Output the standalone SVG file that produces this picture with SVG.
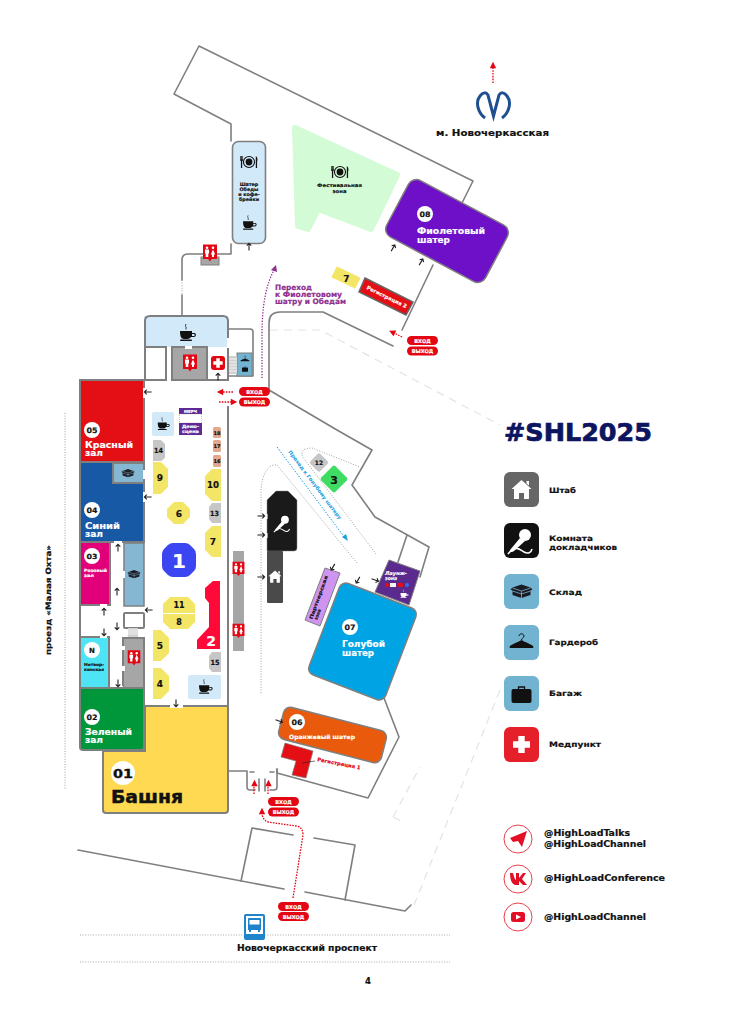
<svg xmlns="http://www.w3.org/2000/svg" width="735" height="1024" viewBox="0 0 735 1024">
<style>
svg{color:#111}
text{font-family:"DejaVu Sans","Liberation Sans",sans-serif;font-weight:700;fill:#111;stroke:#111;stroke-width:.18}
.w{fill:#fff;stroke:#fff}.c{text-anchor:middle}
.pu{fill:#8e2e8f;stroke:#8e2e8f}.bl{fill:#1aa0e0;stroke:#1aa0e0;stroke-width:.05}.rd{fill:#e30613;stroke:#e30613}
.wall{fill:none;stroke:#7f7f7f;stroke-width:1.6;stroke-linejoin:round;stroke-linecap:round}
.hw{stroke:#7f7f7f;stroke-width:2}
.faint{fill:none;stroke:#e4e4e4;stroke-width:1.2;stroke-dasharray:8 6}
.dot{fill:none;stroke:#888;stroke-width:.8;stroke-dasharray:1 1.6}
.road{fill:none;stroke:#aaa;stroke-width:1;stroke-dasharray:1 1.6}
.red{fill:none;stroke:#e30613;stroke-width:1.3;stroke-dasharray:1.6 1.2}
.y{fill:#f3e565}.g{fill:#c6c6c6}.s{fill:#e3a98e}.lb{fill:#d2e9fa}.door{fill:#fff}
.pill{fill:#e30613}
</style>
<defs>
<path id="a" d="M0-3.6V3.6M-2.3-1.3L0-3.6L2.3-1.3" fill="none" stroke="#222" stroke-width="1.1"/>
<path id="rh" d="M0-3.2L3.2 3.2H-3.2Z" fill="#e30613"/>
<g id="cup" fill="currentColor">
<path d="M-7-2H5V0H7.500C9.500 0 9.500 4 7 4H4C3 5.500 2 6-1 6H-3C-6 6-7 3-7-2ZM5 1V3H7C8 3 8 1 7 1Z"/>
<rect x="-7" y="6.500" width="12" height="1.500" rx=".7"/>
<path d="M-1-9C-2.500-7-.2-6-1-3.500" fill="none" stroke="currentColor" stroke-width=".8"/>
</g>
<g id="fork" fill="#111">
<circle r="6.500" fill="none" stroke="#111" stroke-width="1.300"/><circle r="4"/>
<path d="M-10.500-7V-1.500H-9.500V7H-8V-1.500H-7V-7H-7.800V-3H-8.300V-7H-9.200V-3H-9.700V-7Z"/>
<path d="M8-7C10-6 10.500-2 9.500-.5V7H8Z"/>
</g>
<g id="wc">
<path d="M-7-7.500H7V7H1.800L0 9.500L-1.800 7H-7Z" fill="#e30613"/>
<circle cx="-3" cy="-4.200" r="1.300" fill="#fff"/><circle cx="3" cy="-4.200" r="1.300" fill="#fff"/>
<path d="M-5-2.500H-1V1.500H-1.700V5H-4.300V1.500H-5ZM3-2.500L5.200 2.500H4V5H2V2.500H.8Z" fill="#fff"/>
</g>
<g id="box">
<path d="M0-6.500L9-3.500L11-1.500L9-.5V4L0 7L-9 4V-.5L-11-1.500L-9-3.500Z" fill="#1b1b24"/>
<path d="M-9-3L0 0L9-3M0 0V7M-9 0L0 3L9 0" fill="none" stroke="#7fb4d0" stroke-width=".8"/>
</g>
<g id="bag"><path d="M-3-5V-7H3V-5" fill="none" stroke="#111" stroke-width="1.300"/><rect x="-10" y="-5" width="20" height="14" rx="2" fill="#111"/></g>
<g id="hanger"><path d="M-12 5C-12 3-3 0 0-2C3 0 12 3 12 5C12 6 11 6 10 6H-10C-11 6-12 6-12 5Z" fill="#111"/><path d="M-2.500-6C-2-9 2-9 2.500-6C2.500-4 0-4 0-2" fill="none" stroke="#111" stroke-width="1"/></g>
<path id="cross" d="M-3.200-8.500H3.200V-3.200H8.500V3.200H3.200V8.500H-3.200V3.200H-8.500V-3.200H-3.200Z" fill="#fff"/>
<path id="home" d="M0-10L10-1H7.500V9H2.500V3H-2.500V9H-7.500V-1H-10ZM5-9H7.500V-4.500L5-6.500Z" fill="#fff"/>
<g id="mic"><path d="M-2-2L-12 10C-13 12-10 13-8 11L3 1Z" fill="#fff"/><circle cx="3" cy="-5" r="6" fill="#fff"/><path d="M-14 14C-6 4-2 10 2 12C6 14 9 13 10 9" fill="none" stroke="#fff" stroke-width="1.600"/></g>
</defs>

<g id="site-outline">
<path class="faint" d="M270 330H320L500 425M500 690L414 905M393 817L420 767M393 817L405 823"/>
<path class="wall" d="M231 141V124L174 94L199 46L473 181L462 203"/>
<path class="wall" d="M433 265L402 330M393 346L323 312H280Q269 312 269 323V390L337 430L372 450L352 485L375 517L429 547L420 577M407 535L398 562"/>
<path class="wall" d="M384 698L399 737L368 798L277 773V769"/>
<path class="wall" d="M229 771H247V787Q247 790 250 790H255M277 769V787Q277 790 274 790H270M259 779V791M265 779V791M250 772H254M270 772H274"/>
<path class="wall" d="M78 850L284 889M305 892L405 911L411 905"/>
<path class="wall" d="M241 881L252 828L293 835M314 838L355 845L345 900"/>
<path class="wall" d="M231 244V254H188Q182 254 182 260V280M182 295V316"/>
<path class="dot" d="M182 280V295"/>
<path class="wall" d="M228 329H250Q253 329 253 332V376H228"/>
<path class="dot" d="M65 413V790"/>
<path class="dot" d="M261 693V490C262 475 268 463 277 465L357 563"/>
<path class="dot" d="M376 554L305 460C298 451 304 448 312 448L360 467"/>
<path class="road" d="M80 935H450M80 962H450"/>
</g>

<g id="main-building">
<rect x="144" y="316" width="84" height="31" class="lb"/>
<path class="hw" fill="none" d="M145 347V321Q145 316 150 316H223Q228 316 228 321V706"/>
<rect x="145" y="347" width="21" height="33" fill="#fff" class="hw"/>
<rect x="172" y="347" width="35" height="33" fill="#a6a6a6" class="hw"/>
<path class="hw" d="M207 380H228"/>
<rect x="185" y="346" width="7" height="3" class="door"/>
<rect x="227" y="338" width="3" height="10" class="door"/>
<rect x="227" y="381" width="3" height="25" class="door"/>
<use href="#cup" transform="translate(187 333)"/>
<use href="#wc" transform="translate(190 362)"/>
<g id="med"><rect x="211" y="356" width="14" height="14" rx="3" fill="#e30613"/><use href="#cross" transform="translate(218 363) scale(.55)"/></g>
<rect x="237" y="353" width="15" height="23" fill="#73b3d2" stroke="#7f7f7f"/>
<use href="#hanger" transform="translate(245 359) scale(.38)"/><use href="#bag" transform="translate(245 369) scale(.3)"/>
<rect x="229" y="356" width="8" height="18" fill="#d0d0d0"/>
<path d="M229 359H237M229 362H237M229 365H237M229 368H237M229 371H237" stroke="#fff" stroke-width=".8"/>
</g>

<g id="hall-05"><rect x="80" y="380" width="64" height="82" fill="#e30f15" class="hw"/>
<rect x="143" y="388" width="3" height="10" class="door"/>
<circle cx="92" cy="430" r="8" fill="#fff"/><text x="92" y="433" class="c" font-size="7.500" textLength="11" lengthAdjust="spacingAndGlyphs">05</text>
<text x="85" y="448" class="w" font-size="9" textLength="48" lengthAdjust="spacingAndGlyphs">Красный</text><text x="85" y="456" class="w" font-size="9" textLength="18" lengthAdjust="spacingAndGlyphs">зал</text></g>
<g id="hall-04"><rect x="80" y="462" width="64" height="80" fill="#1859a6" class="hw"/>
<rect x="113" y="463" width="31" height="20" fill="#85b6d2" class="hw"/><use href="#box" transform="translate(128 473) scale(.6)"/>
<rect x="143" y="470" width="3" height="9" class="door"/><rect x="143" y="492" width="3" height="10" class="door"/>
<circle cx="92" cy="510" r="8" fill="#fff"/><text x="92" y="513" class="c" font-size="7.500" textLength="11" lengthAdjust="spacingAndGlyphs">04</text>
<text x="85" y="529" class="w" font-size="9" textLength="35" lengthAdjust="spacingAndGlyphs">Синий</text><text x="85" y="537" class="w" font-size="9" textLength="18" lengthAdjust="spacingAndGlyphs">зал</text></g>
<g id="hall-03"><path d="M81 543H110V606H81Z" fill="#e2007a"/><path class="hw" fill="none" d="M80 542V638M110 543V605H80"/>
<rect x="124" y="543" width="20" height="63" fill="#85b6d2" stroke="#7f7f7f" stroke-width="1.500"/><use href="#box" transform="translate(134 574) scale(.6)"/>
<rect x="120" y="571" width="5" height="7" class="door"/><rect x="114" y="541" width="8" height="3" class="door"/>
<rect x="100" y="604" width="7" height="3" class="door"/>
<circle cx="92" cy="556" r="8" fill="#fff"/><text x="92" y="558.500" class="c" font-size="7" textLength="11" lengthAdjust="spacingAndGlyphs">03</text>
<text x="84" y="572" class="w" font-size="4.500" textLength="23" lengthAdjust="spacingAndGlyphs">Розовый</text><text x="84" y="577" class="w" font-size="4.500" textLength="10" lengthAdjust="spacingAndGlyphs">зал</text></g>
<g id="hall-n"><rect x="80" y="637" width="29" height="51" fill="#4ee3f5" class="hw"/>
<rect x="100" y="635" width="7" height="3" class="door"/>
<circle cx="92" cy="650" r="8" fill="#fff"/><text x="92" y="653" class="c" font-size="7">N</text>
<text x="84" y="666" font-size="4" textLength="20" lengthAdjust="spacingAndGlyphs">Нетвор-</text><text x="84" y="671" font-size="4" textLength="20" lengthAdjust="spacingAndGlyphs">кинская</text></g>
<g id="wc-block"><rect x="124" y="613" width="20" height="15" rx="1" fill="#fff" class="hw"/>
<rect x="128" y="628" width="10" height="9" fill="#d0d0d0"/><path d="M128 630H138M128 632H138M128 634H138" stroke="#fff" stroke-width=".7"/>
<rect x="123" y="638" width="21" height="50" fill="#a6a6a6" class="hw"/><use href="#wc" transform="translate(134 657) scale(.9)"/>
<rect x="122" y="646" width="3" height="4" class="door"/><rect x="122" y="666" width="3" height="5" class="door"/><rect x="116" y="686" width="7" height="3" class="door"/></g>
<g id="hall-02"><path d="M80 688H144V747Q144 750 141 750H83Q80 750 80 747Z" fill="#00973a" class="hw"/>
<circle cx="92" cy="717" r="8" fill="#fff"/><text x="92" y="720" class="c" font-size="7.500" textLength="11" lengthAdjust="spacingAndGlyphs">02</text>
<text x="85" y="735" class="w" font-size="9" textLength="47" lengthAdjust="spacingAndGlyphs">Зеленый</text><text x="85" y="743" class="w" font-size="9" textLength="18" lengthAdjust="spacingAndGlyphs">зал</text></g>
<g id="hall-01"><path d="M145 706H228V810Q228 813 225 813H106Q103 813 103 810V751H145Z" fill="#ffd951" class="hw"/>
<rect x="170" y="705" width="13" height="3" class="door"/>
<circle cx="123" cy="773" r="12" fill="#fff"/><text x="123" y="777.500" class="c" font-size="13" textLength="20" lengthAdjust="spacingAndGlyphs" style="stroke-width:.4">01</text>
<text x="111" y="803" font-size="18" textLength="72" lengthAdjust="spacingAndGlyphs" style="stroke-width:.5">Башня</text></g>

<g id="booths">
<rect x="152" y="412" width="22" height="24" rx="2" class="lb"/><use href="#cup" transform="translate(163 424) scale(.75)"/>
<g id="merch"><rect x="179" y="408" width="23" height="6" fill="#5f2a97"/><rect x="179.500" y="414" width="22" height="9" fill="#fff" stroke="#888" stroke-width=".5" stroke-dasharray="1 1"/><rect x="179" y="423" width="23" height="12" fill="#5f2a97"/>
<text x="190.500" y="413" class="c w" font-size="4">МЕРЧ</text><text x="190.500" y="428" class="c w" font-size="4.500" textLength="17" lengthAdjust="spacingAndGlyphs">Демо-</text><text x="190.500" y="433" class="c w" font-size="4.500" textLength="17" lengthAdjust="spacingAndGlyphs">сцена</text></g>
<rect x="213" y="427" width="8" height="11" rx="1.500" class="s"/><text x="217" y="435" class="c" font-size="5" textLength="7" lengthAdjust="spacingAndGlyphs">18</text>
<rect x="213" y="440" width="8" height="12" rx="1.500" class="s"/><text x="217" y="448" class="c" font-size="5" textLength="7" lengthAdjust="spacingAndGlyphs">17</text>
<rect x="213" y="455" width="8" height="12" rx="1.500" class="s"/><text x="217" y="463" class="c" font-size="5" textLength="7" lengthAdjust="spacingAndGlyphs">16</text>
<path d="M153 440H161L165 444V458L161 461H153Z" class="g"/><text x="158.500" y="453" class="c" font-size="7" textLength="9" lengthAdjust="spacingAndGlyphs">14</text>
<path d="M153 462H161L168 469V487L161 494H153Z" class="y"/><text x="160" y="481" class="c" font-size="9">9</text>
<path d="M221 469H212L205 476V494L212 501H221Z" class="y"/><text x="213" y="488" class="c" font-size="8.500" textLength="12" lengthAdjust="spacingAndGlyphs">10</text>
<path d="M221 503H212L209 507V519L212 523H221Z" class="g"/><text x="214.500" y="516" class="c" font-size="7" textLength="9" lengthAdjust="spacingAndGlyphs">13</text>
<path d="M221 526H212L205 533V550L212 557H221Z" class="y"/><text x="213" y="545" class="c" font-size="9">7</text>
<path d="M174 502H183L190 509V517L183 524H174L167 517V509Z" class="y"/><text x="179" y="517" class="c" font-size="9">6</text>
<path d="M173 543H185Q188 543 190 545L194 549Q196 551 196 554V566Q196 569 194 571L190 575Q188 577 185 577H173Q170 577 168 575L164 571Q162 569 162 566V554Q162 551 164 549L168 545Q170 543 173 543Z" fill="#3b45f2"/><text x="179" y="568" class="c w" font-size="20">1</text>
<path d="M170 597H188L195 604V613H163V604Z" class="y"/><text x="179" y="608" class="c" font-size="8">11</text>
<path d="M163 614H195V622L188 629H170L163 622Z" class="y"/><text x="179" y="625" class="c" font-size="8">8</text>
<path d="M213 581H220V649H197V640L209 627V603L205 598V588Z" fill="#ff0a38"/><text x="211" y="646" class="c w" font-size="14">2</text>
<path d="M221 652H212L209 656V668L212 672H221Z" class="g"/><text x="215" y="665" class="c" font-size="7" textLength="9" lengthAdjust="spacingAndGlyphs">15</text>
<rect x="188" y="675" width="33" height="24" rx="2" class="lb"/><use href="#cup" transform="translate(205 687) scale(.85)"/>
<path d="M153 630H161L169 638V653L161 661H153Z" class="y"/><text x="160" y="649" class="c" font-size="9">5</text>
<path d="M153 668H161L169 676V691L161 699H153Z" class="y"/><text x="160" y="687" class="c" font-size="9">4</text>
</g>

<g id="tent-05"><rect x="232.500" y="141.500" width="33" height="102" rx="6" fill="#d2e9fa" stroke="#7f7f7f" stroke-width="1.600"/>
<use href="#fork" transform="translate(249 162) scale(.85)"/><use href="#cup" transform="translate(249 223) scale(.85)"/>
<text x="249" y="186" class="c" font-size="4.800">Шатер</text><text x="249" y="191" class="c" font-size="4.800">Обеды</text><text x="249" y="196" class="c" font-size="4.800">и кофе-</text><text x="249" y="201" class="c" font-size="4.800">брейки</text>
</g>
<g id="wc-05"><rect x="201" y="257" width="18" height="8" fill="#a6a6a6" stroke="#7f7f7f"/><use href="#wc" transform="translate(210 252)"/></g>
<g id="strip-wc"><rect x="233" y="551" width="11" height="100" fill="#a6a6a6"/><use href="#wc" transform="translate(238.500 568) scale(.85)"/><use href="#wc" transform="translate(238.500 630) scale(.85)"/></g>

<g id="festival"><path d="M295 128L397 175L371 229L318 209L308 229L298 226Z" fill="#d3fbd5" stroke="#d3fbd5" stroke-width="6" stroke-linejoin="round"/>
<use href="#fork" transform="translate(340 172) scale(.85)"/>
<text x="339.500" y="187" class="c" font-size="4.800" textLength="45" lengthAdjust="spacingAndGlyphs">Фестивальная</text><text x="339.500" y="192.500" class="c" font-size="4.800" textLength="14" lengthAdjust="spacingAndGlyphs">зона</text></g>

<g id="tent-08"><rect x="-56" y="-32" width="112" height="64" rx="9" transform="translate(447 231) rotate(28)" fill="#6d10c8" stroke="#7f7f7f" stroke-width="1.500"/>
<circle cx="425" cy="214" r="8" fill="#fff"/><text x="425" y="217" class="c" font-size="7.500" textLength="11" lengthAdjust="spacingAndGlyphs">08</text>
<text x="417" y="233.500" class="w" font-size="9" textLength="68" lengthAdjust="spacingAndGlyphs">Фиолетовый</text><text x="417" y="242.500" class="w" font-size="9" textLength="33" lengthAdjust="spacingAndGlyphs">шатер</text>
<rect x="-3" y="-2" width="7" height="4" transform="translate(394 245) rotate(28)" class="door"/><rect x="-3" y="-2" width="7" height="4" transform="translate(422 259) rotate(28)" class="door"/></g>
<g id="booth-7"><path d="M337 267L360 278L355 288L332 277Z" fill="#f3e565" stroke="#f3e565" stroke-width="1" stroke-linejoin="round"/><text x="346.500" y="282" class="c" font-size="9">7</text></g>
<g id="reg-2"><path d="M365 278L413 302L406 315L359 292Z" fill="#e30f15" stroke="#666" stroke-width="1.500"/><text transform="translate(386 298.500) rotate(26)" class="c w" font-size="5" textLength="44" lengthAdjust="spacingAndGlyphs">Регистрация 2</text></g>
<text x="275" y="290" class="pu" font-size="7.500" textLength="37" lengthAdjust="spacingAndGlyphs">Переход</text>
<text x="275" y="297" class="pu" font-size="7.500" textLength="67" lengthAdjust="spacingAndGlyphs">к Фиолетовому</text>
<text x="275" y="304" class="pu" font-size="7.500" textLength="71" lengthAdjust="spacingAndGlyphs">шатру и Обедам</text>

<g id="lounge"><path d="M389 560L420 571L409 605L375 592Z" fill="#5b2a8e" stroke="#7f7f7f" stroke-width="1" stroke-linejoin="round"/>
<text x="385" y="575" class="w" font-size="5" font-style="italic" textLength="22" lengthAdjust="spacingAndGlyphs">Лаунж-</text><text x="385" y="580" class="w" font-size="5" font-style="italic" textLength="12" lengthAdjust="spacingAndGlyphs">зона</text>
<circle cx="387" cy="585" r="2" fill="#e30f15"/><rect x="390" y="583" width="6" height="4" fill="#f4f4f4"/><rect x="398" y="583" width="5" height="4" fill="#e30f15"/><circle cx="407" cy="585" r="2" fill="#3b6fe0"/>
<use href="#cup" transform="translate(404 594) scale(.5)" style="color:#fff"/></g>
<g id="tent-07"><rect x="-41" y="-49" width="82" height="98" rx="7" transform="translate(362.500 641.500) rotate(21)" fill="#00a4e4" stroke="#7f7f7f" stroke-width="1.500"/>
<rect x="-4" y="-2" width="8" height="4" transform="translate(358 584) rotate(21)" class="door"/>
<circle cx="350" cy="627" r="8" fill="#fff"/><text x="350" y="630" class="c" font-size="7.500" textLength="11" lengthAdjust="spacingAndGlyphs">07</text>
<text x="342" y="647" class="w" font-size="9" textLength="43" lengthAdjust="spacingAndGlyphs">Голубой</text><text x="342" y="656" class="w" font-size="9" textLength="32" lengthAdjust="spacingAndGlyphs">шатер</text></g>
<g id="partner"><path d="M325 568L340 573L320 626L305 620Z" fill="#cf93f0" stroke="#7f7f7f" stroke-width="1"/>
<text transform="translate(320 598) rotate(-70)" class="c" font-size="4.500" textLength="46" lengthAdjust="spacingAndGlyphs">Партнерская</text><text transform="translate(319 615) rotate(-70)" class="c" font-size="4.500" textLength="11" lengthAdjust="spacingAndGlyphs">зона</text></g>
<g id="speakers"><path d="M267 500L276 491H288L297 500V548Q297 551 294 551H267Z" fill="#1a1a1a" stroke="#888" stroke-width=".5"/><use href="#mic" transform="translate(283 523) scale(.65)"/>
<rect x="267" y="551" width="16" height="52" rx="1" fill="#4a4a4a"/><use href="#home" transform="translate(275 577) scale(.65)"/>
<rect x="265.500" y="514" width="2" height="5" class="door"/><rect x="265.500" y="533" width="2" height="5" class="door"/></g>
<g id="booth-12"><rect x="-7" y="-7" width="14" height="14" rx="2" transform="translate(319 462.500) rotate(45)" fill="#c6c6c6"/><text x="319" y="465" class="c" font-size="6">12</text></g>
<g id="booth-3"><rect x="-10" y="-10" width="20" height="20" rx="2" transform="translate(334 479) rotate(45)" fill="#3fdc64"/><text x="334" y="483.500" class="c" font-size="11">3</text></g>
<text transform="translate(288 452) rotate(53)" class="bl" font-size="5" textLength="85" lengthAdjust="spacingAndGlyphs">Проход к Голубому шатеру</text>

<g id="tent-06"><rect x="-53" y="-16.500" width="106" height="33" rx="7" transform="translate(332.500 735) rotate(14.500)" fill="#ea5a0c" stroke="#7f7f7f" stroke-width="1.500"/>
<circle cx="297" cy="722" r="8" fill="#fff"/><text x="297" y="725" class="c" font-size="7.500" textLength="11" lengthAdjust="spacingAndGlyphs">06</text>
<text x="289" y="738.500" class="w" font-size="5.800" textLength="66" lengthAdjust="spacingAndGlyphs">Оранжевый шатер</text></g>
<g id="reg-1"><path d="M285 743L313 751L306 778L292 775L296 761L281 757Z" fill="#e30f15" stroke="#7f7f7f" stroke-width=".7"/><path d="M302 763L315 761" stroke="#222" stroke-width=".6"/>
<text transform="translate(317 761) rotate(11)" class="rd" font-size="5" textLength="44" lengthAdjust="spacingAndGlyphs">Регистрация 1</text></g>

<g id="entry-labels">
<rect x="407" y="336" width="31" height="9" rx="4.500" class="pill"/><text x="422.500" y="342.500" class="c w" font-size="5">ВХОД</text>
<rect x="407" y="346.500" width="31" height="9" rx="4.500" class="pill"/><text x="422.500" y="353" class="c w" font-size="5">ВЫХОД</text>
<rect x="239" y="387" width="31" height="9" rx="4.500" class="pill"/><text x="254.500" y="393.500" class="c w" font-size="5">ВХОД</text>
<rect x="239" y="397.500" width="31" height="9" rx="4.500" class="pill"/><text x="254.500" y="404" class="c w" font-size="5">ВЫХОД</text>
<rect x="268" y="797" width="31" height="9" rx="4.500" class="pill"/><text x="283.500" y="803.500" class="c w" font-size="5">ВХОД</text>
<rect x="268" y="807.500" width="31" height="9" rx="4.500" class="pill"/><text x="283.500" y="814" class="c w" font-size="5">ВЫХОД</text>
<rect x="278" y="902" width="31" height="9" rx="4.500" class="pill"/><text x="293.500" y="908.500" class="c w" font-size="5">ВХОД</text>
<rect x="278" y="912" width="31" height="9" rx="4.500" class="pill"/><text x="293.500" y="918.500" class="c w" font-size="5">ВЫХОД</text>
</g>

<g id="bus"><rect x="244" y="914" width="21" height="26" rx="2" fill="#1f84c9"/><rect x="246" y="916" width="17" height="18" fill="#fff"/>
<path d="M249 918H260Q261 918 261 919V930H248V919Q248 918 249 918Z" fill="#1f84c9"/><rect x="249.500" y="920" width="10" height="4.500" fill="#fff"/><rect x="249" y="930" width="2" height="2" fill="#1f84c9"/><rect x="258" y="930" width="2" height="2" fill="#1f84c9"/></g>

<text transform="translate(51 600) rotate(-90)" class="c" font-size="7.500" textLength="110" lengthAdjust="spacingAndGlyphs">проезд «Малая Охта»</text>
<text x="237" y="951" font-size="8.500" textLength="140" lengthAdjust="spacingAndGlyphs">Новочеркасский проспект</text>
<text x="368" y="984" class="c" font-size="8.500">4</text>

<g id="metro"><path d="M485 118C478 113 475 102 480 96C483 92 486 92 488 95L493.500 116L499 95C501 92 504 92 507 96C512 102 509 113 502 118" fill="none" stroke="#1d4f91" stroke-width="3"/>
<text x="436" y="135.500" font-size="9" textLength="113" lengthAdjust="spacingAndGlyphs">м. Новочеркасская</text></g>

<g id="legend">
<text x="504" y="441" font-size="24" textLength="148" lengthAdjust="spacingAndGlyphs" style="fill:#0d1460;stroke:#0d1460;stroke-width:.7">#SHL2025</text>
<rect x="504" y="472" width="35" height="35" rx="6" fill="#666"/><use href="#home" transform="translate(521.500 490)"/>
<text x="549" y="493" font-size="7.500" textLength="27" lengthAdjust="spacingAndGlyphs">Штаб</text>
<rect x="504" y="523" width="35" height="35" rx="6" fill="#111"/><use href="#mic" transform="translate(522 540)"/>
<text x="549" y="541" font-size="7.500" textLength="44" lengthAdjust="spacingAndGlyphs">Комната</text><text x="549" y="549.500" font-size="7.500" textLength="68" lengthAdjust="spacingAndGlyphs">докладчиков</text>
<rect x="504" y="574" width="35" height="35" rx="6" fill="#73b3d2"/><use href="#box" transform="translate(521.500 591)"/>
<text x="549" y="595" font-size="7.500" textLength="33" lengthAdjust="spacingAndGlyphs">Склад</text>
<rect x="504" y="625" width="35" height="35" rx="6" fill="#73b3d2"/><use href="#hanger" transform="translate(521.500 642)"/>
<text x="549" y="645" font-size="7.500" textLength="49" lengthAdjust="spacingAndGlyphs">Гардероб</text>
<rect x="504" y="676" width="35" height="35" rx="6" fill="#73b3d2"/><use href="#bag" transform="translate(521.500 694)"/>
<text x="549" y="696" font-size="7.500" textLength="33" lengthAdjust="spacingAndGlyphs">Багаж</text>
<rect x="504" y="727" width="35" height="35" rx="6" fill="#e6202a"/><use href="#cross" transform="translate(521.500 744.500)"/>
<text x="549" y="747" font-size="7.500" textLength="52" lengthAdjust="spacingAndGlyphs">Медпункт</text>
</g>
<g id="social">
<circle cx="518" cy="839" r="14" fill="#fff" stroke="#e8404f" stroke-width="1"/><path d="M510 838L527 831L522 847L518 841L513 842Z" fill="#e30f25"/>
<circle cx="518" cy="879" r="14" fill="#fff" stroke="#e8404f" stroke-width="1"/><path d="M510 873H513C514 877 515 880 516 880V873H519V878L523 873H526L522 879L527 885H523L519 881V885H516C512 885 510 880 510 873Z" fill="#e30f25"/>
<circle cx="518" cy="917" r="14" fill="#fff" stroke="#e8404f" stroke-width="1"/><rect x="511" y="912" width="14" height="10" rx="2.500" fill="#e30f25"/><path d="M516 914.500L521 917L516 919.500Z" fill="#fff"/>
<text x="544" y="835.500" font-size="8" textLength="86" lengthAdjust="spacingAndGlyphs">@HighLoadTalks</text>
<text x="544" y="847" font-size="8" textLength="102" lengthAdjust="spacingAndGlyphs">@HighLoadChannel</text>
<text x="544" y="881" font-size="8" textLength="121" lengthAdjust="spacingAndGlyphs">@HighLoadConference</text>
<text x="544" y="920" font-size="8" textLength="102" lengthAdjust="spacingAndGlyphs">@HighLoadChannel</text>
</g>

<g id="connectors">
<path fill="none" stroke="#8e2e8f" stroke-width="1.300" stroke-dasharray="1.300 1.500" d="M262 378V335C262 305 266 285 274 270"/>
<path d="M276 265L277 272L271 270Z" fill="#8e2e8f"/>
<path fill="none" stroke="#1aa0e0" stroke-width="1" stroke-dasharray="1.500 1.500" d="M277 447L345 538"/>
<path d="M348 541L342 537L346 534Z" fill="#1aa0e0"/>
<path class="red" d="M493 83V67"/><use href="#rh" transform="translate(493 65)"/>
<path class="red" d="M402 337L394 333"/><use href="#rh" transform="translate(392 332) rotate(-65)"/>
<path class="red" d="M233 392H222"/><use href="#rh" transform="translate(220 392) rotate(-90)"/>
<path class="red" d="M219 402H232"/><use href="#rh" transform="translate(234 402) rotate(90)"/>
<path class="red" d="M254 794V785"/><use href="#rh" transform="translate(254.500 783)"/>
<path class="red" d="M268 794V785"/><use href="#rh" transform="translate(268.500 783)"/>
<path class="red" d="M293 898L303 835Q303 827 296 826L268 822Q263 820 262 814"/><use href="#rh" transform="translate(262 811)"/>
<use href="#a" transform="translate(148 392) rotate(-90)"/>
<use href="#a" transform="translate(148 497) rotate(-90)"/>
<use href="#a" transform="translate(118 548)"/>
<use href="#a" transform="translate(117 592)"/>
<use href="#a" transform="translate(149 610) rotate(-90)"/>
<use href="#a" transform="translate(104 612)"/>
<use href="#a" transform="translate(117 626) rotate(180)"/>
<use href="#a" transform="translate(104 632) rotate(180)"/>
<use href="#a" transform="translate(118 683) rotate(180)"/>
<use href="#a" transform="translate(176 703) rotate(180)"/>
<use href="#a" transform="translate(218 377)"/>
<use href="#a" transform="translate(249 247)"/>
<use href="#a" transform="translate(393 248) rotate(30)"/>
<use href="#a" transform="translate(421 262) rotate(30)"/>
<use href="#a" transform="translate(261 516) rotate(90)"/>
<use href="#a" transform="translate(261 535) rotate(90)"/>
<use href="#a" transform="translate(261 577) rotate(90)"/>
<use href="#a" transform="translate(333 567) rotate(210)"/>
<use href="#a" transform="translate(358 580) rotate(210)"/>
<use href="#a" transform="translate(375 580) rotate(110)"/>
<use href="#a" transform="translate(279 721) rotate(110)"/>
</g>
</svg>
